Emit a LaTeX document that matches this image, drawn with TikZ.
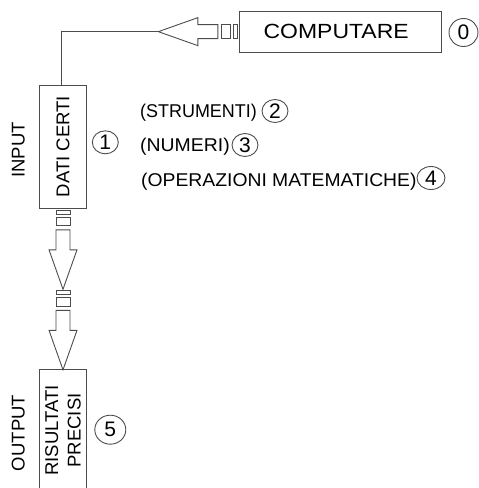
\documentclass[tikz,border=0pt]{standalone}
\usepackage{fontspec}
\setmainfont{Liberation Sans}
\usetikzlibrary{shapes.geometric,calc}
\begin{document}
\begin{tikzpicture}[x=1pt,y=-1pt,
  line/.style={draw=black!70,line width=0.9pt},
  box/.style={line, rectangle, inner sep=0pt},
  lbl/.style={font=\fontsize{18.5}{22.3}\selectfont, inner sep=0pt, text=black},
  num/.style={line, ellipse, inner sep=0pt, text=black, font=\fontsize{21}{24}\selectfont, minimum width=26pt, minimum height=23pt},
  blkarrow/.pic={
    \draw[line] (1.5,-7) rectangle (5.5,7);
    \draw[line] (8.5,-7) rectangle (17,7);
    \draw[line] (21,-7) -- (41,-7) -- (41,-14) -- (80.5,0) -- (41,14) -- (41,7) -- (21,7) -- cycle;
  }]
\useasboundingbox (0,0) rectangle (479,488);
\clip (0,0) rectangle (479,488);

% top box
\node[box, lbl, font=\fontsize{20.5}{24}\selectfont, minimum width=201.7pt, minimum height=41.3pt] (comp) at (340.15,31.65) {\scalebox{1.12}[1]{COMPUTARE}\hspace*{8pt}};
\node[num, minimum width=29pt, minimum height=28pt] (n0) at (463.5,32.5) {0};

% input
\node[box, lbl, rotate=90, minimum width=123.3pt, minimum height=47.3pt] (dati) at (63,146.7) {DATI CERTI};
\node[lbl, rotate=90] (input) at (18.3,150) {INPUT};
\node[num] (n1) at (105.3,142.3) {1};

\node[lbl, anchor=base west] (strum) at (140,117) {\scalebox{0.97}[1]{(STRUMENTI)}};
\node[num] (n2) at (275,111) {2};
\node[lbl, anchor=base west] (numeri) at (140,151.5) {\scalebox{1.05}[1]{(NUMERI)}};
\node[num] (n3) at (245,145) {3};
\node[lbl, anchor=base west] (oper) at (141,186) {\scalebox{1.045}[1]{(OPERAZIONI MATEMATICHE)}};
\node[num, minimum width=28pt] (n4) at (431,178) {4};

% output
\node[box, lbl, rotate=90, align=center, minimum width=122.4pt, minimum height=47pt] (ris) at (63,430.5) {RISULTATI\\PRECISI};
\node[lbl, rotate=90] (output) at (18.3,433) {OUTPUT};
\node[num, minimum width=31pt, minimum height=29pt] (n5) at (110.3,429.7) {5};

% connectors
\coordinate (tipL) at ($(comp.west)+(-80.5,0)$);
\pic[rotate=180] at (comp.west) {blkarrow};
\draw[line] (tipL) -| ([xshift=-2pt]dati.east);

\coordinate (mid) at ($(dati.west)+(0,80.5)$);
\pic[rotate=-90] at (dati.west) {blkarrow};
\pic[rotate=-90] at (mid) {blkarrow};
\end{tikzpicture}
\end{document}
